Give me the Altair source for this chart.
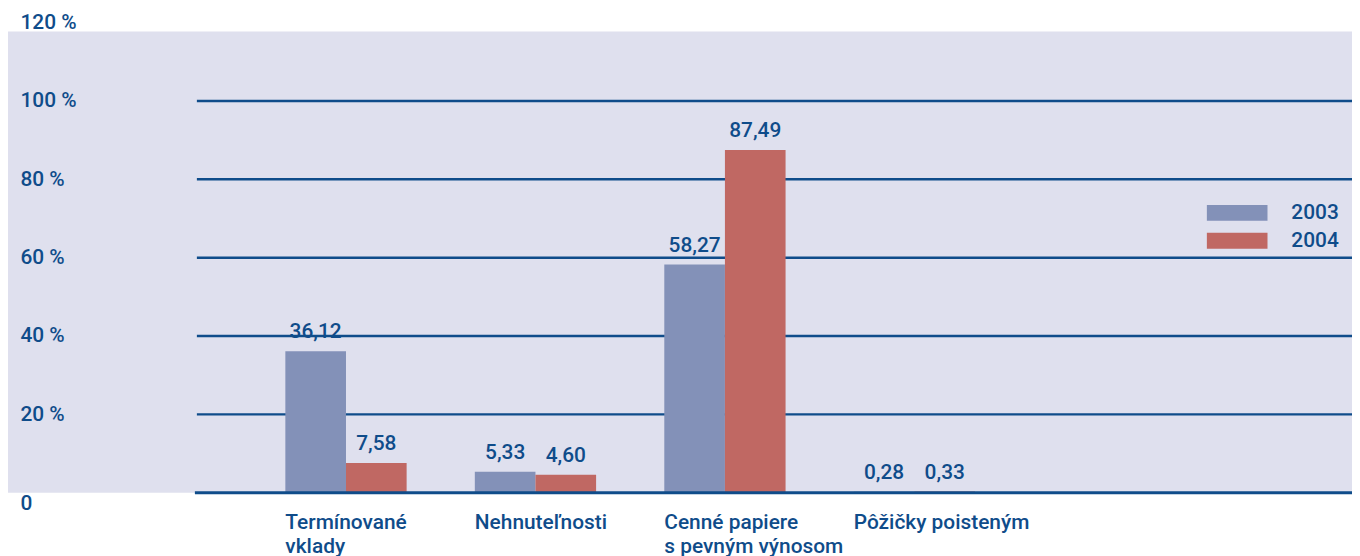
import altair as alt
import pandas as pd

categories = ["Termínované|vklady", "Nehnuteľnosti", "Cenné papiere|s pevným výnosom", "Pôžičky poisteným"]
years = ["2003", "2004"]
values_2003 = [36.12, 5.33, 58.27, 0.28]
values_2004 = [7.58, 4.60, 87.49, 0.33]
y_ticks = [0, 20, 40, 60, 80, 100, 120]
grid_values = [20, 40, 60, 80, 100]
baseline_value = [0]

TEXT = "#0f4c8a"
BG = "#dfe0ee"
C2003 = "#8391b8"
C2004 = "#c06863"
FONT = "Roboto"
WEIGHT = 500

rows = []
for c, a, b in zip(categories, values_2003, values_2004):
    rows.append({"cat": c, "year": "2003", "value": a})
    rows.append({"cat": c, "year": "2004", "value": b})
df = pd.DataFrame(rows)
grid_df = pd.DataFrame({"g": grid_values})
base_df = pd.DataFrame({"g": baseline_value})
bg_df = pd.DataFrame({"a": [0]})

W, H = 1162, 473

xscale = alt.Scale(domain=categories, range=[89, 782.8], paddingInner=0.3599, paddingOuter=0)
xoff = alt.XOffset("year:N", scale=alt.Scale(domain=years, paddingInner=0, paddingOuter=0))
yscale = alt.Scale(domain=[0, 120], nice=False)

xaxis = alt.Axis(labelExpr="split(datum.label, '|')", labelAlign="left",
                 labelBaseline="top", labelOffset=-61, labelPadding=19,
                 labelFont=FONT, labelFontWeight=WEIGHT, labelFontSize=21, labelColor=TEXT,
                 labelLineHeight=24, labelLimit=0, ticks=False, tickSize=0,
                 domain=False, labelAngle=0, title=None, zindex=1)
yaxis = alt.Axis(values=y_ticks, grid=False, domain=False, ticks=False, tickSize=0,
                 labelExpr="datum.value == 0 ? '0' : datum.value + ' %'",
                 labelAlign="left", labelPadding=178, labelOverlap=False,
                 labelBaseline=alt.condition("datum.value == 0", alt.value("top"), alt.value("middle")),
                 labelFont=FONT, labelFontWeight=WEIGHT, labelFontSize=21, labelColor=TEXT,
                 title=None, zindex=1)

background = alt.Chart(bg_df).mark_rect(color=BG).encode(
    x=alt.value(-190), x2=alt.value(W), y=alt.value(9), y2=alt.value(H)
)

grid = alt.Chart(grid_df).mark_rule(color=TEXT, strokeWidth=2.5).encode(
    y=alt.Y("g:Q", scale=yscale, axis=yaxis)
)

base = alt.Chart(df)

bars = base.mark_bar().encode(
    x=alt.X("cat:N", scale=xscale, sort=categories, axis=xaxis),
    xOffset=xoff,
    y=alt.Y("value:Q", scale=yscale, axis=yaxis),
    color=alt.Color("year:N", scale=alt.Scale(domain=years, range=[C2003, C2004]),
                    legend=alt.Legend(title=None, orient="none", legendX=1036, legendY=181,
                                      symbolType="M-3.8125,-1H3.8125V1H-3.8125Z", symbolSize=256,
                                      symbolStrokeWidth=0, symbolOpacity=1,
                                      labelFont=FONT, labelFontWeight=WEIGHT, labelFontSize=21, labelColor=TEXT,
                                      labelOffset=44, rowPadding=6, padding=0)),
)

baseline = alt.Chart(base_df).mark_rule(color=TEXT, strokeWidth=3).encode(
    y=alt.Y("g:Q", scale=yscale, axis=yaxis),
    x=alt.value(-2), x2=alt.value(W),
)

labels = base.transform_calculate(
    lbl="replace(format(datum.value, '.2f'), '.', ',')"
).mark_text(font=FONT, fontWeight=WEIGHT, fontSize=21, color=TEXT, baseline="bottom", dy=-9).encode(
    x=alt.X("cat:N", scale=xscale, sort=categories, axis=xaxis),
    xOffset=xoff,
    y=alt.Y("value:Q", scale=yscale, axis=yaxis),
    text="lbl:N",
)

chart = alt.layer(background, grid, bars, baseline, labels).properties(
    width=W, height=H,
    autosize=alt.AutoSizeParams(type="none"),
    padding={"left": 190, "top": 13, "right": 0, "bottom": 62},
    background="white",
).configure_view(stroke=None)

chart.save("out.html", embed_options={"renderer": "svg", "actions": False})
